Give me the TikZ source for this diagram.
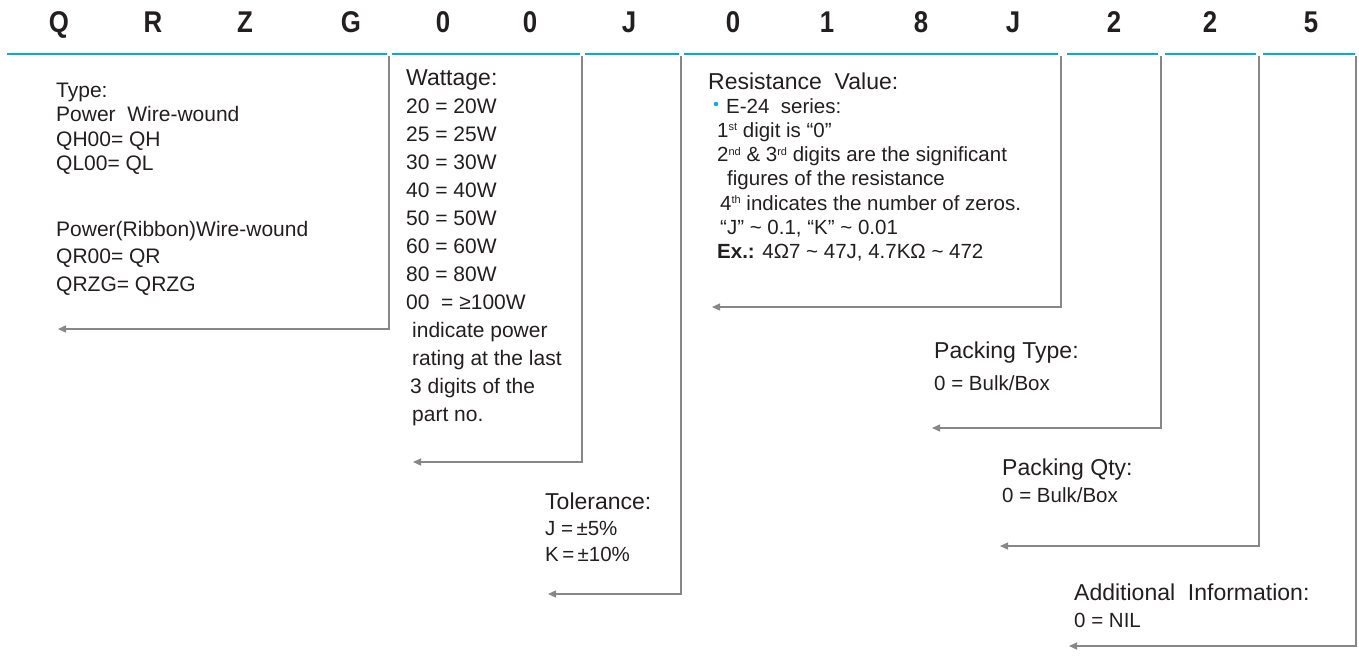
\documentclass[tikz,border=0pt]{standalone}
\usepackage{fontspec}
\setmainfont{Liberation Sans}
\usetikzlibrary{arrows.meta}
\definecolor{segblue}{RGB}{0,173,214}
\definecolor{conngray}{RGB}{135,135,135}
\definecolor{inktext}{RGB}{35,31,32}
\tikzset{
  hdr/.style={font=\fontsize{30}{30}\selectfont\bfseries, text=inktext, inner sep=0pt, anchor=base},
  seg/.style={draw=segblue, line width=2.8pt},
  conn/.style={draw=conngray, line width=1.3pt, -{Triangle[length=8pt,width=7pt]}},
  ttl/.style={font=\fontsize{23}{28}\selectfont, text=inktext, inner sep=0pt, anchor=base west},
  body/.style={font=\fontsize{21}{28}\selectfont, text=inktext, inner sep=0pt, anchor=base west, align=left},
}
\newcommand{\hd}[1]{\scalebox{0.86}[1]{#1}}
\newcommand{\sps}[1]{\raisebox{6.5pt}{\fontsize{11}{11}\selectfont #1}}
\begin{document}
\begin{tikzpicture}[x=1pt,y=-1pt]
\useasboundingbox (0,0) rectangle (1359,658);
% header characters
\foreach \ch/\xx/\nm in {Q/59/h1, R/153/h2, Z/245/h3, G/351/h4, 0/443/h5, 0/530/h6, J/629/h7, 0/733/h8, 1/827/h9, 8/921/h10, J/1013/h11, 2/1114/h12, 2/1210/h13, 5/1311/h14}
  \node[hdr] (\nm) at (\xx,33) {\hd{\ch}};
% blue segments
\draw[seg] (7,54) -- (387,54);
\draw[seg] (392,54) -- (580,54);
\draw[seg] (585,54) -- (679,54);
\draw[seg] (684,54) -- (1058,54);
\draw[seg] (1067,54) -- (1158,54);
\draw[seg] (1165,54) -- (1256,54);
\draw[seg] (1263,54) -- (1355,54);
% Type (anchor = baseline of last line)
\node[body, font=\fontsize{21}{24.5}\selectfont] (typeB) at (56,291) {Type:\\Power\ \ Wire-wound\\QH00= QH\\QL00= QL\\[41pt]Power(Ribbon)Wire-wound\\[3pt]QR00= QR\\[3pt]QRZG= QRZG};
% Wattage
\node[ttl] (wattT) at (406,86) {Wattage:};
\node[body] (wattB) at (406,421) {20 = 20W\\25 = 25W\\30 = 30W\\40 = 40W\\50 = 50W\\60 = 60W\\80 = 80W\\00 \ = ≥100W\\\hspace*{6pt}indicate power\\\hspace*{6pt}rating at the last\\\hspace*{4pt}3 digits of the\\\hspace*{6pt}part no.};
% Resistance
\node[ttl] (resT) at (708,90) {Resistance\ \ Value:};
\node[circle, fill=segblue, inner sep=0pt, minimum size=4.5pt] (bul) at (716,104) {};
\node[body, font=\fontsize{20.5}{24.3}\selectfont] (resB) at (717,258.8) {\hspace*{9pt}E-24\ \ series:\\1\sps{st} digit is “0”\\2\sps{nd} \& 3\sps{rd} digits are the significant\\\hspace*{10pt}figures of the resistance\\\hspace*{3pt}4\sps{th} indicates the number of zeros.\\\hspace*{3pt}“J” \textasciitilde\ 0.1, “K” \textasciitilde\ 0.01\\\textbf{Ex.:} 4Ω7 \textasciitilde\ 47J, 4.7KΩ \textasciitilde\ 472};
% Tolerance
\node[ttl] (tolT) at (545,509) {Tolerance:};
\node[body, font=\fontsize{20.5}{26}\selectfont] (tolB) at (545,561) {J =\,±5\%\\K\,=\,±10\%};
% Packing type
\node[ttl] (ptT) at (934,358) {Packing Type:};
\node[body, font=\fontsize{20.5}{27}\selectfont] (ptB) at (934,390) {0 = Bulk/Box};
% Packing qty
\node[ttl] (pqT) at (1002,475) {Packing Qty:};
\node[body, font=\fontsize{20.5}{27}\selectfont] (pqB) at (1002,502) {0 = Bulk/Box};
% Additional
\node[ttl] (adT) at (1074,600) {Additional\ \ Information:};
\node[body, font=\fontsize{20.5}{27}\selectfont] (adB) at (1074,627) {0 = NIL};
% connectors
\coordinate (c1a) at (389,56);  \coordinate (c1b) at (58,329);
\coordinate (c2a) at (582,56);  \coordinate (c2b) at (413,462);
\coordinate (c3a) at (681,56);  \coordinate (c3b) at (548,594);
\coordinate (c4a) at (1061,56); \coordinate (c4b) at (712,307);
\coordinate (c5a) at (1161,56); \coordinate (c5b) at (932,428);
\coordinate (c6a) at (1259,56); \coordinate (c6b) at (1000,546);
\coordinate (c7a) at (1356,56); \coordinate (c7b) at (1069,646);
\draw[conn] (c1a) |- (c1b);
\draw[conn] (c2a) |- (c2b);
\draw[conn] (c3a) |- (c3b);
\draw[conn] (c4a) |- (c4b);
\draw[conn] (c5a) |- (c5b);
\draw[conn] (c6a) |- (c6b);
\draw[conn] (c7a) |- (c7b);
\end{tikzpicture}
\end{document}
